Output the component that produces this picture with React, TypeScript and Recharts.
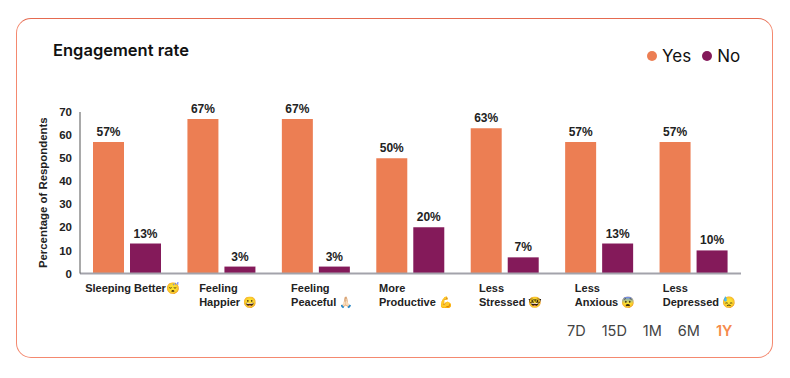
import { Bar, BarChart, LabelList, Legend, XAxis, YAxis } from "recharts";

const categories = [
  ["Sleeping Better😴"],
  ["Feeling", "Happier 😀"],
  ["Feeling", "Peaceful 🙏🏻"],
  ["More", "Productive 💪"],
  ["Less", "Stressed 🤓"],
  ["Less", "Anxious 😨"],
  ["Less", "Depressed 😓"],
];
const yesValues = [57, 67, 67, 50, 63, 57, 57];
const noValues = [13, 3, 3, 20, 7, 13, 10];
const yTicks = [0, 10, 20, 30, 40, 50, 60, 70];
const ranges = ["7D", "15D", "1M", "6M", "1Y"];

const data = categories.map((lines, i) => ({
  name: lines.join("|"),
  yes: yesValues[i],
  no: noValues[i],
}));

// labels in the original are left aligned, each nudged a bit differently
const tickShift = [-42, -22.5, -25, -31.5, -26, -24.5, -31];

const ORANGE = "#ec7e53";
const PURPLE = "#841a5a";
const FONT = "'Liberation Sans', Arial, sans-serif";
const HEADING = "Inter, 'Noto Sans', sans-serif";

function CategoryTick({ x, y, payload, index }: any) {
  const lines = String(payload.value).split("|");
  return (
    <text
      x={x + tickShift[index]}
      y={y + 10.5}
      fontFamily={FONT}
      fontSize={11}
      fontWeight={700}
      fill="#222"
    >
      {lines.map((line, i) => (
        <tspan key={i} x={x + tickShift[index]} dy={i === 0 ? 0 : 13.5}>
          {line}
        </tspan>
      ))}
    </text>
  );
}

function LegendRow({ payload }: any) {
  return (
    <div style={{ display: "flex", fontFamily: HEADING, fontSize: 17, color: "#111", lineHeight: "20px" }}>
      {payload.map((p: any) => (
        <span key={p.value} style={{ display: "flex", alignItems: "center", marginRight: 11 }}>
          <span
            style={{ width: 10, height: 10, borderRadius: 5, background: p.color, marginRight: 5 }}
          />
          {p.value}
        </span>
      ))}
    </div>
  );
}

export default function App() {
  return (
    <div style={{ position: "absolute", left: 0, top: 0, width: 790, height: 378, background: "#fff" }}>
      <div
        style={{
          position: "absolute",
          left: 16,
          top: 18,
          width: 755,
          height: 338,
          border: "1.5px solid #f4896f",
          borderTopColor: "#e56a50",
          borderRadius: 15,
        }}
      />
      <div
        style={{
          position: "absolute",
          left: 53,
          top: 40,
          fontFamily: HEADING,
          fontSize: 16.5,
          fontWeight: 600,
          color: "#111",
        }}
      >
        Engagement rate
      </div>
      <BarChart
        width={790}
        height={378}
        data={data}
        barSize={31}
        barGap={6}
        barCategoryGap={13}
        margin={{ top: 92, right: 49, bottom: 0, left: 46 }}
        style={{ position: "absolute", left: 0, top: 0 }}
      >
        <XAxis
          dataKey="name"
          interval={0}
          tickLine={false}
          axisLine={{ stroke: "#a3a3ab", strokeWidth: 2 }}
          tick={<CategoryTick />}
          height={104.5}
        />
        <YAxis
          domain={[0, 70]}
          ticks={yTicks}
          interval={0}
          width={34}
          tickLine={false}
          tickMargin={2}
          axisLine={{ stroke: "#555", strokeWidth: 1 }}
          tick={{ fontFamily: FONT, fontSize: 11.5, fontWeight: 700, fill: "#222" }}
          label={{
            value: "Percentage of Respondents",
            angle: -90,
            position: "left",
            offset: 3,
            style: { fontFamily: FONT, fontSize: 11.4, fontWeight: 700, fill: "#222", textAnchor: "middle" },
          }}
        />
        <Legend
          verticalAlign="top"
          align="right"
          itemSorter={null}
          content={<LegendRow />}
          wrapperStyle={{ position: "absolute", left: 647, top: 46, width: 130 }}
        />
        <Bar dataKey="yes" name="Yes" fill={ORANGE} isAnimationActive={false}>
          <LabelList
            dataKey="yes"
            position="top"
            offset={6}
            formatter={(v: any) => `${v}%`}
            style={{ fontFamily: FONT, fontSize: 12, fontWeight: 700, fill: "#222" }}
          />
        </Bar>
        <Bar dataKey="no" name="No" fill={PURPLE} isAnimationActive={false}>
          <LabelList
            dataKey="no"
            position="top"
            offset={6}
            formatter={(v: any) => `${v}%`}
            style={{ fontFamily: FONT, fontSize: 12, fontWeight: 700, fill: "#222" }}
          />
        </Bar>
      </BarChart>
      <div
        style={{
          position: "absolute",
          left: 567,
          top: 322,
          display: "flex",
          gap: 16,
          fontFamily: HEADING,
          fontSize: 14.5,
          lineHeight: "18px",
          color: "#444",
        }}
      >
        {ranges.map((r) => (
          <span key={r} style={r === "1Y" ? { color: "#f58a4b", fontWeight: 600 } : undefined}>
            {r}
          </span>
        ))}
      </div>
    </div>
  );
}
